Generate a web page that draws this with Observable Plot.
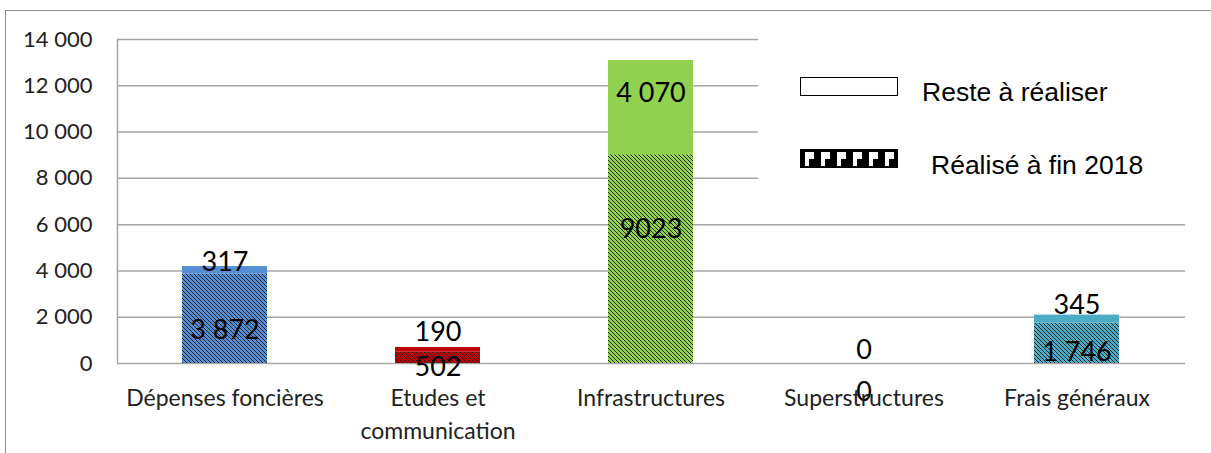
<!DOCTYPE html>
<html>
<head>
<meta charset="utf-8">
<script src="https://cdn.jsdelivr.net/npm/d3@7"></script>
<script src="https://cdn.jsdelivr.net/npm/@observablehq/plot@0.6"></script>
<style>
  html, body { margin: 0; padding: 0; background: #fff; }
  #wrap { position: relative; width: 1211px; height: 453px; overflow: hidden; }
  #frame { position: absolute; left: 5px; top: 10px; width: 1220px; height: 460px;
           border-top: 1.5px solid #8c8c8c; border-left: 1.5px solid #8c8c8c; box-sizing: border-box; }
  #chart { position: absolute; left: 0; top: 0; }
  #legend { position: absolute; left: 758px; top: 28px; width: 440px; height: 178px; background: #fff;
            font-family: "Liberation Sans", Arial, sans-serif; font-size: 26.5px; color: #000; }
  .sw { position: absolute; left: 42px; width: 98px; height: 19px; box-sizing: border-box; border: 1.5px solid #000; }
  .lt { position: absolute; line-height: 1; }
</style>
</head>
<body>
<div id="wrap">
  <div id="frame"></div>
  <div id="chart"></div>
  <div id="legend">
    <div class="sw" style="top:49px;background:#fff;"></div>
    <div class="lt" style="left:164px;top:51px;">Reste à réaliser</div>
    <svg class="sw" style="top:121px;border:none;" width="98" height="19">
      <defs>
        <pattern id="legpat" patternUnits="userSpaceOnUse" width="16" height="19" x="2">
          <rect width="16" height="19" fill="#000"></rect>
          <rect x="3" y="3" width="9" height="7" fill="#fff"></rect>
          <rect x="3" y="10" width="4" height="7" fill="#fff"></rect>
        </pattern>
      </defs>
      <rect x="0.75" y="0.75" width="96.5" height="17.5" fill="url(#legpat)" stroke="#000" stroke-width="1.5"></rect>
    </svg>
    <div class="lt" style="left:173px;top:124px;">Réalisé à fin 2018</div>
  </div>
</div>
<script>
// ---- data ----
const categories = ["Dépenses foncières", "Etudes et\ncommunication", "Infrastructures", "Superstructures", "Frais généraux"];
const realised = [3872, 502, 9023, 0, 1746];
const remaining = [317, 190, 4070, 0, 345];
const realisedLabels = ["3 872", "502", "9023", "0", "1 746"];
const remainingLabels = ["317", "190", "4 070", "0", "345"];
const yTicks = [0, 2000, 4000, 6000, 8000, 10000, 12000, 14000];

// ---- styling / layout ----
const barColors = ["#558ED5", "#C00000", "#92D050", "#7F7F7F", "#4BACC6"];
const realisedNudge = [12, 10, -30, 29, 9];
const remainingNudge = [-8, -17, -14, -13, -14];

const rows = [];
categories.forEach((c, i) => {
  rows.push({cat: c, i, part: "realised", y1: 0, y2: realised[i], label: realisedLabels[i], nudge: realisedNudge[i]});
  rows.push({cat: c, i, part: "remaining", y1: realised[i], y2: realised[i] + remaining[i], label: remainingLabels[i], nudge: remainingNudge[i]});
});

const fmt = d => d3.format(",")(d).replace(/,/g, "\u00a0");

const chart = Plot.plot({
  width: 1211,
  height: 453,
  marginLeft: 117,
  marginRight: 26,
  marginTop: 39,
  marginBottom: 90,
  style: {fontFamily: "Lato, sans-serif", background: "transparent", color: "#222"},
  x: {domain: categories, paddingInner: 0.6, paddingOuter: 0.3, label: null},
  y: {domain: [0, 14000], label: null},
  color: {type: "identity"},
  marks: [
    Plot.ruleY(yTicks, {stroke: "#a6a6a6", strokeWidth: 1.5}),
    Plot.frame({anchor: "left", stroke: "#a6a6a6", strokeWidth: 1.5}),
    Plot.barY(rows, {
      x: "cat", y1: "y1", y2: "y2",
      fill: d => d.part === "realised" ? `url(#hatch${d.i})` : barColors[d.i]
    }),
    ...rows.map(r => Plot.text([r], {
      x: "cat", y: d => (d.y1 + d.y2) / 2, text: "label",
      dy: r.nudge, fontSize: 27, fill: "#000"
    })),
    Plot.axisY({ticks: yTicks, tickSize: 0, tickPadding: 25, tickFormat: fmt, fontSize: 22, fill: "#222"}),
    Plot.axisX({tickSize: 0, tickPadding: 20, fontSize: 23, lineHeight: 1.4, fill: "#222"})
  ]
});

// hatch patterns for the "realised" segments
const defs = barColors.map((c, i) => `
  <pattern id="hatch${i}" patternUnits="userSpaceOnUse" width="4" height="4">
    <rect width="4" height="4" fill="${c}"></rect>
    <path d="M-1,-1 L5,5 M-1,3 L1,5 M3,-1 L5,1" stroke="#1a1a1a" stroke-width="0.95"></path>
  </pattern>`).join("");
chart.insertAdjacentHTML("afterbegin", `<defs>${defs}</defs>`);

document.getElementById("chart").appendChild(chart);
</script>
</body>
</html>
